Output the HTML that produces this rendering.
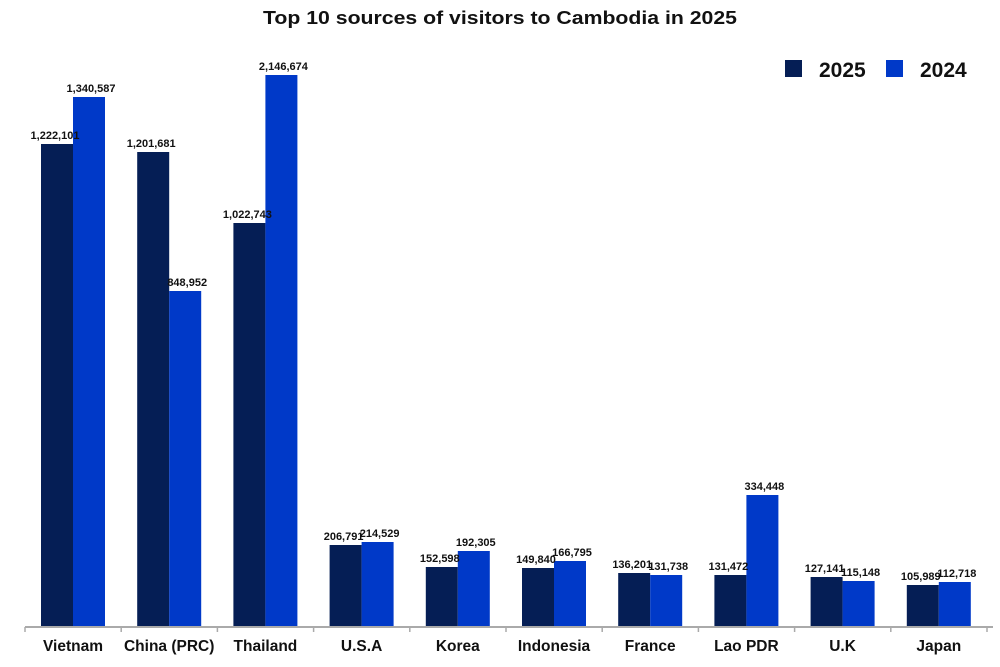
<!DOCTYPE html>
<html><head><meta charset="utf-8"><style>body{margin:0;background:#fff}svg{display:block}text{font-family:"Liberation Sans",Arial,sans-serif;font-weight:bold;fill:#111}</style></head><body>
<svg width="1000" height="667" viewBox="0 0 1000 667">
<text x="500" y="24" text-anchor="middle" font-size="18" textLength="474" lengthAdjust="spacingAndGlyphs">Top 10 sources of visitors to Cambodia in 2025</text>
<rect x="785" y="60" width="17" height="17" fill="#051e55"/>
<text x="819" y="77" font-size="21">2025</text>
<rect x="886" y="60" width="17" height="17" fill="#0039c8"/>
<text x="920" y="77" font-size="21">2024</text>
<g id="bars"></g>
<line x1="25" y1="627" x2="993" y2="627" stroke="#aaa" stroke-width="2"/>
<g stroke="#aaa" stroke-width="1.5" id="ticks"></g>
</svg>
<script>
const d=[["Vietnam",144,"1,222,101",97,"1,340,587"],["China (PRC)",152,"1,201,681",291,"848,952"],["Thailand",223,"1,022,743",75,"2,146,674"],["U.S.A",545,"206,791",542,"214,529"],["Korea",567,"152,598",551,"192,305"],["Indonesia",568,"149,840",561,"166,795"],["France",573,"136,201",575,"131,738"],["Lao PDR",575,"131,472",495,"334,448"],["U.K",577,"127,141",581,"115,148"],["Japan",585,"105,989",582,"112,718"]];
const ns="http://www.w3.org/2000/svg";const g=document.getElementById("bars"),t=document.getElementById("ticks");
function el(p,n,a,txt){const e=document.createElementNS(ns,n);for(const k in a)e.setAttribute(k,a[k]);if(txt)e.textContent=txt;p.appendChild(e);return e;}
d.forEach((r,i)=>{const x=41+96.2*i;
el(g,"rect",{x:x,y:r[1],width:32,height:627-r[1],fill:"#051e55"});
el(g,"rect",{x:x+32,y:r[3],width:32,height:627-r[3],fill:"#0039c8"});
el(g,"text",{x:x+14,y:r[1]-5,"text-anchor":"middle","font-size":"11"},r[2]);
el(g,"text",{x:x+50,y:r[3]-5,"text-anchor":"middle","font-size":"11"},r[4]);
el(g,"text",{x:x+32,y:651,"text-anchor":"middle","font-size":"15.5"},r[0]);
});
for(let i=0;i<=10;i++){const x=25+96.2*i;el(t,"line",{x1:x,y1:627,x2:x,y2:632});}
</script>
</body></html>
